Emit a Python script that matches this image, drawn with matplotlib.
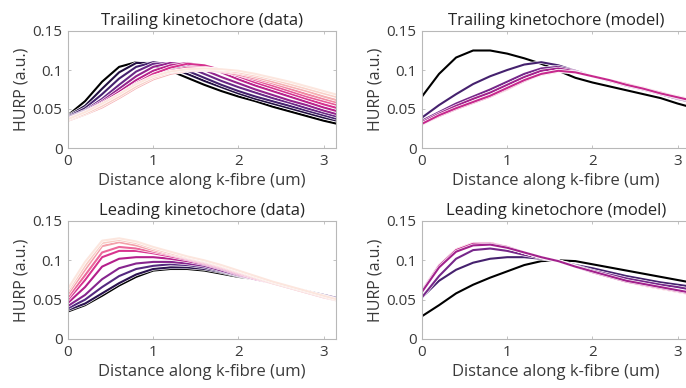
import numpy as np
import matplotlib
matplotlib.use("Agg")
import matplotlib.pyplot as plt
from matplotlib.colors import LinearSegmentedColormap
import matplotlib.patheffects as pe

plt.rcParams['font.family'] = ['Open Sans', 'DejaVu Sans']

# ---------------- data ----------------
x = [0.0, 0.2, 0.4, 0.6, 0.8, 1.0, 1.2, 1.4, 1.6, 1.8, 2.0, 2.2, 2.4, 2.6, 2.8, 3.0, 3.2]

titles = ["Trailing kinetochore (data)", "Trailing kinetochore (model)",
          "Leading kinetochore (data)", "Leading kinetochore (model)"]
xlabel = "Distance along k-fibre (um)"
ylabel = "HURP (a.u.)"
xticks = [0, 1, 2, 3]
yticks = [0, 0.05, 0.1, 0.15]
yticklabels = ["0", "0.05", "0.1", "0.15"]

# Trailing kinetochore (data): curves from dark (early) to pale (late)
trail_data = [
    [0.042, 0.060, 0.085, 0.104, 0.110, 0.105, 0.099, 0.090, 0.081, 0.073, 0.066, 0.060, 0.053, 0.047, 0.041, 0.035, 0.030],
    [0.041, 0.054, 0.076, 0.097, 0.109, 0.109, 0.103, 0.095, 0.086, 0.078, 0.070, 0.063, 0.057, 0.051, 0.045, 0.039, 0.034],
    [0.040, 0.051, 0.069, 0.089, 0.104, 0.110, 0.107, 0.099, 0.090, 0.081, 0.073, 0.066, 0.060, 0.054, 0.048, 0.042, 0.036],
    [0.039, 0.048, 0.063, 0.081, 0.098, 0.108, 0.109, 0.104, 0.095, 0.086, 0.078, 0.071, 0.064, 0.058, 0.051, 0.045, 0.039],
    [0.038, 0.047, 0.060, 0.076, 0.092, 0.104, 0.109, 0.107, 0.100, 0.091, 0.083, 0.075, 0.068, 0.061, 0.055, 0.048, 0.042],
    [0.037, 0.046, 0.058, 0.072, 0.087, 0.099, 0.106, 0.109, 0.105, 0.097, 0.088, 0.080, 0.073, 0.066, 0.059, 0.052, 0.046],
    [0.037, 0.045, 0.056, 0.069, 0.083, 0.095, 0.103, 0.108, 0.106, 0.100, 0.092, 0.084, 0.077, 0.070, 0.063, 0.056, 0.050],
    [0.036, 0.044, 0.055, 0.067, 0.080, 0.091, 0.099, 0.103, 0.103, 0.100, 0.094, 0.087, 0.080, 0.073, 0.066, 0.060, 0.054],
    [0.036, 0.043, 0.053, 0.065, 0.078, 0.089, 0.097, 0.100, 0.100, 0.098, 0.094, 0.089, 0.083, 0.076, 0.069, 0.063, 0.057],
    [0.035, 0.043, 0.052, 0.064, 0.077, 0.088, 0.095, 0.099, 0.100, 0.099, 0.096, 0.091, 0.085, 0.079, 0.073, 0.066, 0.060],
    [0.036, 0.044, 0.054, 0.066, 0.079, 0.090, 0.097, 0.100, 0.101, 0.100, 0.097, 0.093, 0.088, 0.082, 0.076, 0.070, 0.064],
    [0.037, 0.046, 0.057, 0.069, 0.082, 0.092, 0.098, 0.101, 0.102, 0.101, 0.099, 0.095, 0.090, 0.085, 0.079, 0.073, 0.067],
]
trail_data_c = list(np.linspace(0, 1, len(trail_data)))

# Trailing kinetochore (model): black, purples, then pale -> magenta bundle
trail_model = [
    [0.066, 0.095, 0.116, 0.125, 0.125, 0.121, 0.115, 0.108, 0.099, 0.090, 0.084, 0.079, 0.074, 0.069, 0.064, 0.057, 0.051],
    [0.039, 0.055, 0.069, 0.082, 0.092, 0.100, 0.107, 0.110, 0.106, 0.099, 0.092, 0.086, 0.080, 0.075, 0.070, 0.064, 0.059],
    [0.035, 0.046, 0.057, 0.066, 0.075, 0.085, 0.095, 0.102, 0.104, 0.099, 0.092, 0.086, 0.080, 0.075, 0.069, 0.063, 0.058],
    [0.033, 0.044, 0.054, 0.063, 0.071, 0.081, 0.091, 0.099, 0.102, 0.098, 0.092, 0.086, 0.081, 0.075, 0.070, 0.064, 0.059],
    [0.030, 0.041, 0.050, 0.058, 0.066, 0.075, 0.086, 0.094, 0.098, 0.097, 0.092, 0.087, 0.082, 0.077, 0.071, 0.066, 0.061],
    [0.031, 0.041, 0.050, 0.058, 0.066, 0.076, 0.086, 0.095, 0.099, 0.097, 0.092, 0.087, 0.082, 0.076, 0.071, 0.065, 0.060],
    [0.031, 0.042, 0.051, 0.059, 0.067, 0.077, 0.087, 0.095, 0.099, 0.097, 0.092, 0.087, 0.081, 0.076, 0.070, 0.065, 0.060],
]
trail_model_c = [0.0, 0.18, 0.30, 0.40, 0.80, 0.62, 0.50]

# Leading kinetochore (data)
lead_data = [
    [0.035, 0.043, 0.055, 0.068, 0.079, 0.087, 0.089, 0.089, 0.087, 0.083, 0.079, 0.076, 0.071, 0.066, 0.061, 0.055, 0.051],
    [0.037, 0.045, 0.058, 0.071, 0.082, 0.089, 0.091, 0.091, 0.089, 0.085, 0.080, 0.076, 0.071, 0.066, 0.061, 0.056, 0.051],
    [0.039, 0.050, 0.066, 0.080, 0.089, 0.093, 0.095, 0.094, 0.091, 0.086, 0.081, 0.076, 0.071, 0.066, 0.061, 0.056, 0.051],
    [0.042, 0.056, 0.076, 0.090, 0.096, 0.098, 0.098, 0.096, 0.093, 0.087, 0.081, 0.076, 0.071, 0.066, 0.060, 0.055, 0.050],
    [0.046, 0.066, 0.092, 0.102, 0.104, 0.104, 0.102, 0.099, 0.095, 0.089, 0.082, 0.076, 0.071, 0.065, 0.060, 0.054, 0.049],
    [0.050, 0.075, 0.104, 0.112, 0.112, 0.109, 0.105, 0.101, 0.096, 0.090, 0.083, 0.077, 0.071, 0.065, 0.059, 0.053, 0.048],
    [0.053, 0.081, 0.110, 0.117, 0.115, 0.111, 0.107, 0.102, 0.097, 0.091, 0.084, 0.077, 0.071, 0.065, 0.059, 0.053, 0.048],
    [0.057, 0.088, 0.118, 0.123, 0.119, 0.113, 0.108, 0.103, 0.098, 0.092, 0.085, 0.078, 0.071, 0.065, 0.059, 0.053, 0.048],
    [0.061, 0.093, 0.122, 0.126, 0.122, 0.115, 0.109, 0.104, 0.099, 0.093, 0.086, 0.079, 0.072, 0.066, 0.060, 0.054, 0.048],
    [0.064, 0.098, 0.125, 0.128, 0.124, 0.117, 0.111, 0.105, 0.100, 0.094, 0.087, 0.080, 0.073, 0.067, 0.061, 0.055, 0.049],
]
lead_data_c = list(np.linspace(0, 1, len(lead_data)))

# Leading kinetochore (model): black, purples, then pale -> magenta bundle
lead_model = [
    [0.029, 0.043, 0.058, 0.069, 0.078, 0.086, 0.094, 0.099, 0.100, 0.099, 0.095, 0.091, 0.087, 0.083, 0.079, 0.075, 0.071],
    [0.053, 0.074, 0.088, 0.097, 0.102, 0.104, 0.104, 0.102, 0.099, 0.094, 0.090, 0.085, 0.080, 0.076, 0.072, 0.069, 0.066],
    [0.053, 0.080, 0.102, 0.113, 0.115, 0.112, 0.107, 0.103, 0.099, 0.093, 0.087, 0.082, 0.077, 0.073, 0.069, 0.066, 0.062],
    [0.062, 0.094, 0.114, 0.122, 0.122, 0.117, 0.110, 0.104, 0.099, 0.092, 0.085, 0.079, 0.073, 0.068, 0.064, 0.060, 0.056],
    [0.061, 0.093, 0.113, 0.121, 0.122, 0.117, 0.110, 0.104, 0.099, 0.092, 0.085, 0.079, 0.073, 0.069, 0.065, 0.061, 0.057],
    [0.061, 0.093, 0.113, 0.121, 0.121, 0.117, 0.110, 0.104, 0.099, 0.092, 0.085, 0.079, 0.073, 0.069, 0.065, 0.061, 0.057],
    [0.060, 0.091, 0.111, 0.119, 0.120, 0.116, 0.110, 0.104, 0.099, 0.092, 0.086, 0.080, 0.074, 0.070, 0.066, 0.062, 0.058],
]
lead_model_c = [0.0, 0.18, 0.30, 0.80, 0.62, 0.50, 0.40]

panels = [(trail_data, trail_data_c), (trail_model, trail_model_c),
          (lead_data, lead_data_c), (lead_model, lead_model_c)]

# ---------------- style ----------------
cmap = LinearSegmentedColormap.from_list(
    "hurp", ["#000000", "#2a1250", "#552a80", "#86258e", "#b51f8b",
             "#d8338f", "#ec679a", "#f39fa9", "#f8cbc3", "#fce6de"])

W, H = 686, 388
fig = plt.figure(figsize=(W / 100, H / 100), dpi=100)

xmax = 3.15
ppu = 85.2
# axes boxes in pixels: (left, top, bottom)
boxes = [(68, 31, 148), (422, 31, 148), (68, 221, 339), (422, 221, 339)]

txt = "#262626"
lab = "#3a3a3a"
axcol = "#b8b8b8"

for (data, cvals), title, (l, t, b) in zip(panels, titles, boxes):
    w = xmax * ppu
    ax = fig.add_axes([l / W, 1 - b / H, w / W, (b - t) / H])
    for yv, c in zip(data, cvals):
        ax.plot(x, yv, color=cmap(c), lw=1.5, solid_capstyle='round',
                solid_joinstyle='round',
                path_effects=[pe.Stroke(linewidth=2.4, foreground='white'), pe.Normal()])
    ax.set_xlim(0, xmax)
    ax.set_ylim(0, 0.15)
    ax.set_xticks(xticks)
    ax.set_xticklabels([str(v) for v in xticks])
    ax.set_yticks(yticks)
    ax.set_yticklabels(yticklabels)
    ax.tick_params(direction='in', length=2.5, width=0.6, color=axcol,
                   labelsize=11, labelcolor=lab, top=True, right=True, pad=4)
    for s in ax.spines.values():
        s.set_color(axcol)
        s.set_linewidth(0.8)
    ax.set_title(title, fontsize=12, color=txt, pad=4)
    ax.set_xlabel(xlabel, fontsize=12, color=lab, labelpad=3)
    ax.set_ylabel(ylabel, fontsize=11.5, color=lab, labelpad=2)

fig.savefig("out.png", dpi=100)
